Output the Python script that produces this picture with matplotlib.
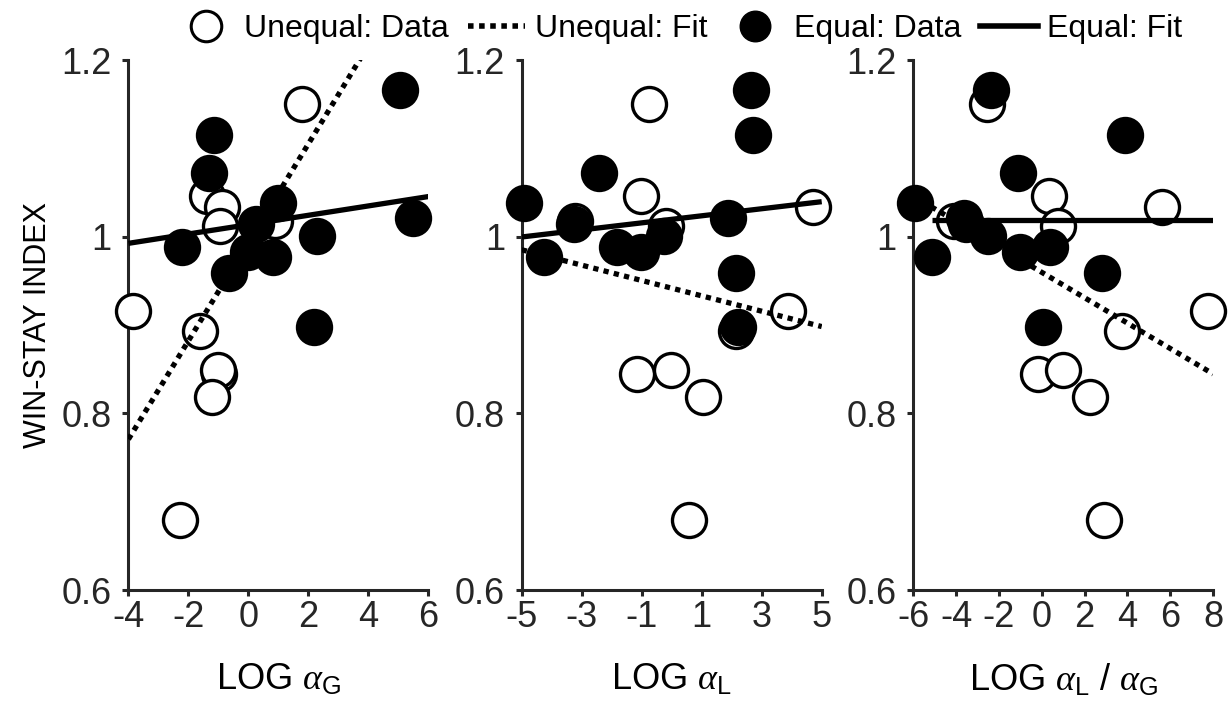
import numpy as np
import matplotlib.pyplot as plt
from matplotlib.lines import Line2D

plt.rcParams['font.family'] = ['Liberation Sans', 'DejaVu Sans']
plt.rcParams['mathtext.fontset'] = 'custom'
plt.rcParams['mathtext.rm'] = 'Liberation Sans'
plt.rcParams['mathtext.it'] = 'Liberation Serif:italic'
plt.rcParams['axes.unicode_minus'] = False

# unequal-reward group (open circles), one entry per subject
ws_unequal = [1.151, 1.047, 1.034, 1.013, 1.018, 0.916, 0.894, 0.845, 0.849, 0.819, 0.679]
logG_unequal = [1.77, -1.38, -0.88, -0.96, 0.87, -3.86, -1.61, -0.97, -1.03, -1.22, -2.29]
logL_unequal = [-0.75, -1.03, 4.72, -0.20, -3.21, 3.88, 2.15, -1.15, -0.03, 1.03, 0.59]
ratio_unequal = [-2.54, 0.33, 5.62, 0.76, -4.08, 7.75, 3.75, -0.18, 1.00, 2.26, 2.89]

# equal-reward group (filled circles)
ws_equal = [1.166, 1.115, 1.072, 1.038, 1.022, 1.015, 1.001, 0.989, 0.983, 0.977, 0.959, 0.898]
logG_equal = [5.04, -1.16, -1.33, 0.98, 5.49, 0.25, 2.28, -2.23, -0.03, 0.81, -0.65, 2.17]
logL_equal = [2.65, 2.71, -2.43, -4.94, 1.87, -3.27, -0.25, -1.82, -1.03, -4.27, 2.15, 2.21]
ratio_equal = [-2.38, 3.89, -1.10, -5.90, -3.63, -3.52, -2.53, 0.40, -1.00, -5.10, 2.80, 0.04]

# fitted lines: intercept, slope, x span
fit_unequal_b0 = [0.994, 0.942, 0.960]
fit_unequal_b1 = [0.0558, -0.0087, -0.0144]
fit_unequal_span = [(-4, 6), (-5, 5), (-6, 8)]
fit_equal_b0 = [1.014, 1.020, 1.0195]
fit_equal_b1 = [0.0053, 0.0040, 0.0]
fit_equal_span = [(-4, 6), (-5, 5), (-5.1, 8)]

xlims = [(-4, 6), (-5, 5), (-6, 8)]
xticks = [np.arange(-4, 7, 2), np.arange(-5, 6, 2), np.arange(-6, 9, 2)]
xlabels = [r'LOG $\alpha_{\mathrm{G}}$', r'LOG $\alpha_{\mathrm{L}}$',
           r'LOG $\alpha_{\mathrm{L}}$ / $\alpha_{\mathrm{G}}$']
xs_unequal = [logG_unequal, logL_unequal, ratio_unequal]
xs_equal = [logG_equal, logL_equal, ratio_equal]

dark = '#262626'
fig = plt.figure(figsize=(12.29, 7.19), dpi=100)
lefts = [0.1045, 0.4245, 0.7430]
axes = [fig.add_axes([l, 0.1794, 0.2441, 0.7365]) for l in lefts]

for i, ax in enumerate(axes):
    ax.plot(xs_unequal[i], ws_unequal, 'o', ms=24.5, mfc='white', mec='black',
            mew=2.4, clip_on=False, zorder=3)
    ax.plot(xs_equal[i], ws_equal, 'o', ms=24.5, mfc='black', mec='black',
            mew=2.4, clip_on=False, zorder=4)

    xu = np.array(fit_unequal_span[i])
    ax.plot(xu, fit_unequal_b0[i] + fit_unequal_b1[i] * xu, color='black',
            lw=3.8, dashes=(1, 1), dash_capstyle='butt', zorder=5)
    xe = np.array(fit_equal_span[i])
    ax.plot(xe, fit_equal_b0[i] + fit_equal_b1[i] * xe, color='black',
            lw=3.8, solid_capstyle='butt', zorder=5)

    ax.set_xlim(*xlims[i])
    ax.set_ylim(0.6, 1.2)
    ax.set_xticks(xticks[i])
    ax.set_yticks([0.6, 0.8, 1.0, 1.2])
    ax.set_yticklabels(['0.6', '0.8', '1', '1.2'])
    for side in ['top', 'right']:
        ax.spines[side].set_visible(False)
    for side in ['left', 'bottom']:
        ax.spines[side].set_linewidth(2.2)
        ax.spines[side].set_color(dark)
    ax.tick_params(direction='out', length=4, width=2.2, colors=dark,
                   labelsize=26, pad=3)
    ax.tick_params(axis='y', pad=8)
    ax.set_xlabel(xlabels[i], fontsize=26, labelpad=20)

axes[0].set_ylabel('WIN-STAY INDEX', fontsize=22, labelpad=6)

handles = [
    Line2D([], [], ls='none', marker='o', ms=22, mfc='white', mec='black', mew=2.2),
    Line2D([], [], color='black', lw=4, dashes=(1, 1)),
    Line2D([], [], ls='none', marker='o', ms=22, mfc='black', mec='black'),
    Line2D([], [], color='black', lw=4),
]
labels = ['Unequal: Data', 'Unequal: Fit', 'Equal: Data', 'Equal: Fit']
fig.legend(handles, labels, loc='upper center', ncol=4, frameon=False,
           bbox_to_anchor=(0.553, 1.02), fontsize=23, handlelength=1.8,
           handletextpad=0.3, columnspacing=0.6)

fig.savefig('out.png', dpi=100)
